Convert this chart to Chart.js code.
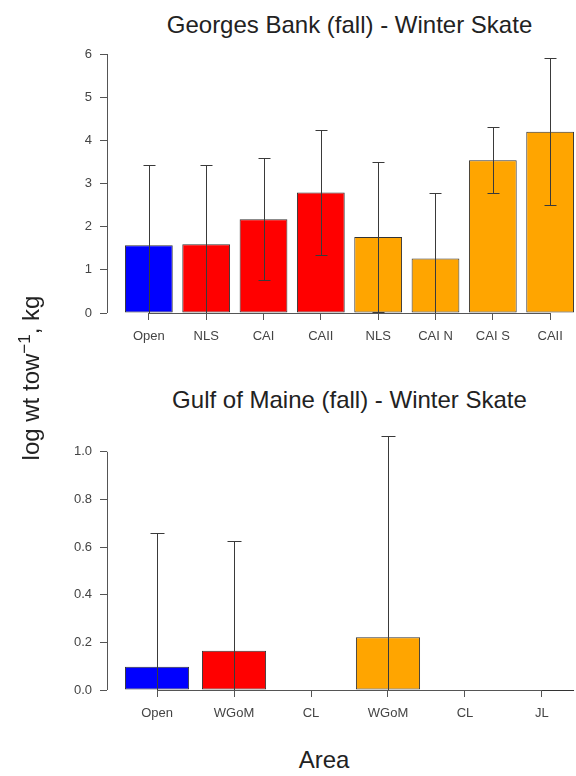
<!DOCTYPE html>
<html>
<head>
<meta charset="utf-8">
<script src="https://cdn.jsdelivr.net/npm/chart.js@4/dist/chart.umd.min.js"></script>
<style>
  html, body { margin: 0; padding: 0; background: #fff; }
  #page { position: relative; width: 576px; height: 776px; overflow: hidden;
          font-family: "Liberation Sans", Arial, sans-serif; color: #222; }
  canvas { position: absolute; left: 0; }
  #gbChart { top: 0; }
  #gomChart { top: 380px; }
  .main { position: absolute; left: 0; width: 699px; text-align: center;
          font-size: 24px; line-height: 24px; white-space: nowrap; }
  #xlab { position: absolute; left: 224px; top: 748px; width: 200px; text-align: center;
          font-size: 24px; line-height: 24px; }
  #ylab { position: absolute; left: -69px; top: 364px; width: 200px; height: 28px;
          line-height: 28px; text-align: center; font-size: 24px; white-space: nowrap;
          transform: rotate(-90deg); }
  #ylab sup { font-size: 17px; line-height: 0; vertical-align: 9px; }
</style>
</head>
<body>
<div id="page">
  <div class="main" style="top:13px">Georges Bank (fall) - Winter Skate</div>
  <canvas id="gbChart" width="620" height="360"></canvas>
  <div class="main" style="top:388px">Gulf of Maine (fall) - Winter Skate</div>
  <canvas id="gomChart" width="620" height="360"></canvas>
  <div id="ylab">log wt tow<sup>&minus;1</sup>, kg</div>
  <div id="xlab">Area</div>
</div>
<script>
// Georges Bank, fall survey: mean log weight per tow with upper/lower error limits
const gbAreas = ['Open', 'NLS', 'CAI', 'CAII', 'NLS', 'CAI N', 'CAI S', 'CAII'];
const gbGroups = ['open', 'closed', 'closed', 'closed', 'other', 'other', 'other', 'other'];
const gbMeans = [1.57, 1.59, 2.17, 2.79, 1.76, 1.26, 3.54, 4.20];
const gbUpper = [3.44, 3.44, 3.58, 4.24, 3.49, 2.79, 4.31, 5.90];
const gbLower = [-0.30, -0.26, 0.76, 1.35, 0.03, -0.28, 2.79, 2.51];
const gbTicks = [0, 1, 2, 3, 4, 5, 6];

// Gulf of Maine, fall survey
const gomAreas = ['Open', 'WGoM', 'CL', 'WGoM', 'CL', 'JL'];
const gomGroups = ['open', 'closed', 'closed', 'other', 'other', 'other'];
const gomMeans = [0.098, 0.165, 0, 0.221, 0, 0];
const gomUpper = [0.66, 0.625, null, 1.067, null, null];
const gomLower = [-0.46, -0.295, null, -0.625, null, null];
const gomTicks = [0, 0.2, 0.4, 0.6, 0.8, 1.0];

const groupColors = { open: '#0000FF', closed: '#FF0000', other: '#FFA500' };
const axisColor = '#555';
const textColor = '#444';

// barplot layout: bars of width 1 separated by 0.2, range padded by 4%
function barCenters(n) {
  return Array.from({ length: n }, (_, i) => 0.7 + 1.2 * i);
}
function barXlim(n) {
  const lo = 0.2, hi = 1.2 * n, pad = 0.04 * (hi - lo);
  return [lo - pad, hi + pad];
}

// error bars, clipped at the zero line, plus outlines for zero-height bars
const errorBars = {
  id: 'errorBars',
  afterDatasetsDraw(chart, args, opts) {
    const { ctx, chartArea } = chart;
    const y = chart.scales.y;
    const meta = chart.getDatasetMeta(0);
    const data = chart.data.datasets[0].data;
    ctx.save();
    ctx.lineWidth = 1;
    meta.data.forEach((bar, i) => {
      if (data[i].y === 0) {
        ctx.strokeStyle = '#333';
        ctx.beginPath();
        ctx.moveTo(bar.x - bar.width / 2, Math.round(y.getPixelForValue(0)) + 0.5);
        ctx.lineTo(bar.x + bar.width / 2, Math.round(y.getPixelForValue(0)) + 0.5);
        ctx.stroke();
      }
      if (opts.upper[i] == null) return;
      const px = Math.round(bar.x) + 0.5;
      const yHi = Math.round(y.getPixelForValue(opts.upper[i])) + 0.5;
      const loClipped = opts.lower[i] < y.min;
      const yLo = loClipped ? chartArea.bottom : Math.round(y.getPixelForValue(opts.lower[i])) + 0.5;
      ctx.strokeStyle = '#3a3a3a';
      ctx.beginPath();
      ctx.moveTo(px, yHi);
      ctx.lineTo(px, yLo);
      ctx.moveTo(px - opts.cap, yHi);
      ctx.lineTo(px + opts.cap, yHi);
      if (!loClipped) {
        ctx.moveTo(px - opts.cap, yLo);
        ctx.lineTo(px + opts.cap, yLo);
      }
      ctx.stroke();
    });
    ctx.restore();
  }
};

// axis lines that run only from the first to the last tick
const tickAxes = {
  id: 'tickAxes',
  afterDraw(chart) {
    const { ctx, chartArea, scales: { x, y } } = chart;
    const xl = Math.round(chartArea.left) + 0.5;
    const yb = Math.round(chartArea.bottom) + 0.5;
    ctx.save();
    ctx.strokeStyle = axisColor;
    ctx.lineWidth = 1;
    ctx.beginPath();
    ctx.moveTo(xl, y.getPixelForValue(y.ticks[0].value));
    ctx.lineTo(xl, y.getPixelForValue(y.ticks[y.ticks.length - 1].value));
    ctx.moveTo(x.getPixelForValue(x.ticks[0].value), yb);
    ctx.lineTo(x.getPixelForValue(x.ticks[x.ticks.length - 1].value), yb);
    ctx.stroke();
    ctx.restore();
  }
};

function makeBarChart(id, areas, groups, means, lower, upper, yTicks, yMax, opt) {
  const centers = barCenters(areas.length);
  const xlim = barXlim(areas.length);
  return new Chart(document.getElementById(id), {
    type: 'bar',
    data: {
      datasets: [{
        data: centers.map((c, i) => ({ x: c, y: means[i] })),
        backgroundColor: groups.map(g => groupColors[g]),
        borderColor: '#333',
        borderWidth: 1,
        borderSkipped: false,
        categoryPercentage: 1,
        barPercentage: 1 / 1.2
      }]
    },
    options: {
      responsive: false,
      animation: false,
      layout: { padding: { top: opt.top, left: 0, right: 28, bottom: 0 } },
      plugins: {
        legend: { display: false },
        tooltip: { enabled: false },
        errorBars: { lower: lower, upper: upper, cap: opt.cap }
      },
      scales: {
        x: {
          type: 'linear',
          min: xlim[0],
          max: xlim[1],
          offset: false,
          afterBuildTicks: s => { s.ticks = centers.map(v => ({ value: v })); },
          afterFit: s => { s.height = opt.xHeight; },
          border: { display: false },
          grid: { display: true, offset: false, drawOnChartArea: false, drawTicks: true, tickLength: 7, color: axisColor },
          ticks: {
            autoSkip: false, maxRotation: 0, padding: 9,
            color: textColor,
            font: { family: '"Liberation Sans", Arial, sans-serif', size: 13 },
            callback: (v, i) => areas[i]
          }
        },
        y: {
          min: 0,
          max: yMax,
          afterBuildTicks: s => { s.ticks = yTicks.map(v => ({ value: v })); },
          afterFit: s => { s.width = 107; },
          border: { display: false },
          grid: { display: true, drawOnChartArea: false, drawTicks: true, tickLength: 7, color: axisColor },
          ticks: {
            padding: 8,
            color: textColor,
            font: { family: '"Liberation Sans", Arial, sans-serif', size: 13 },
            callback: v => opt.digits ? v.toFixed(opt.digits) : String(v)
          }
        }
      }
    },
    plugins: [errorBars, tickAxes]
  });
}

makeBarChart('gbChart', gbAreas, gbGroups, gbMeans, gbLower, gbUpper, gbTicks, 6,
  { top: 54, xHeight: 47, cap: 6, digits: 0 });
makeBarChart('gomChart', gomAreas, gomGroups, gomMeans, gomLower, gomUpper, gomTicks, 1.1,
  { top: 48, xHeight: 50, cap: 7, digits: 1 });
</script>
</body>
</html>
